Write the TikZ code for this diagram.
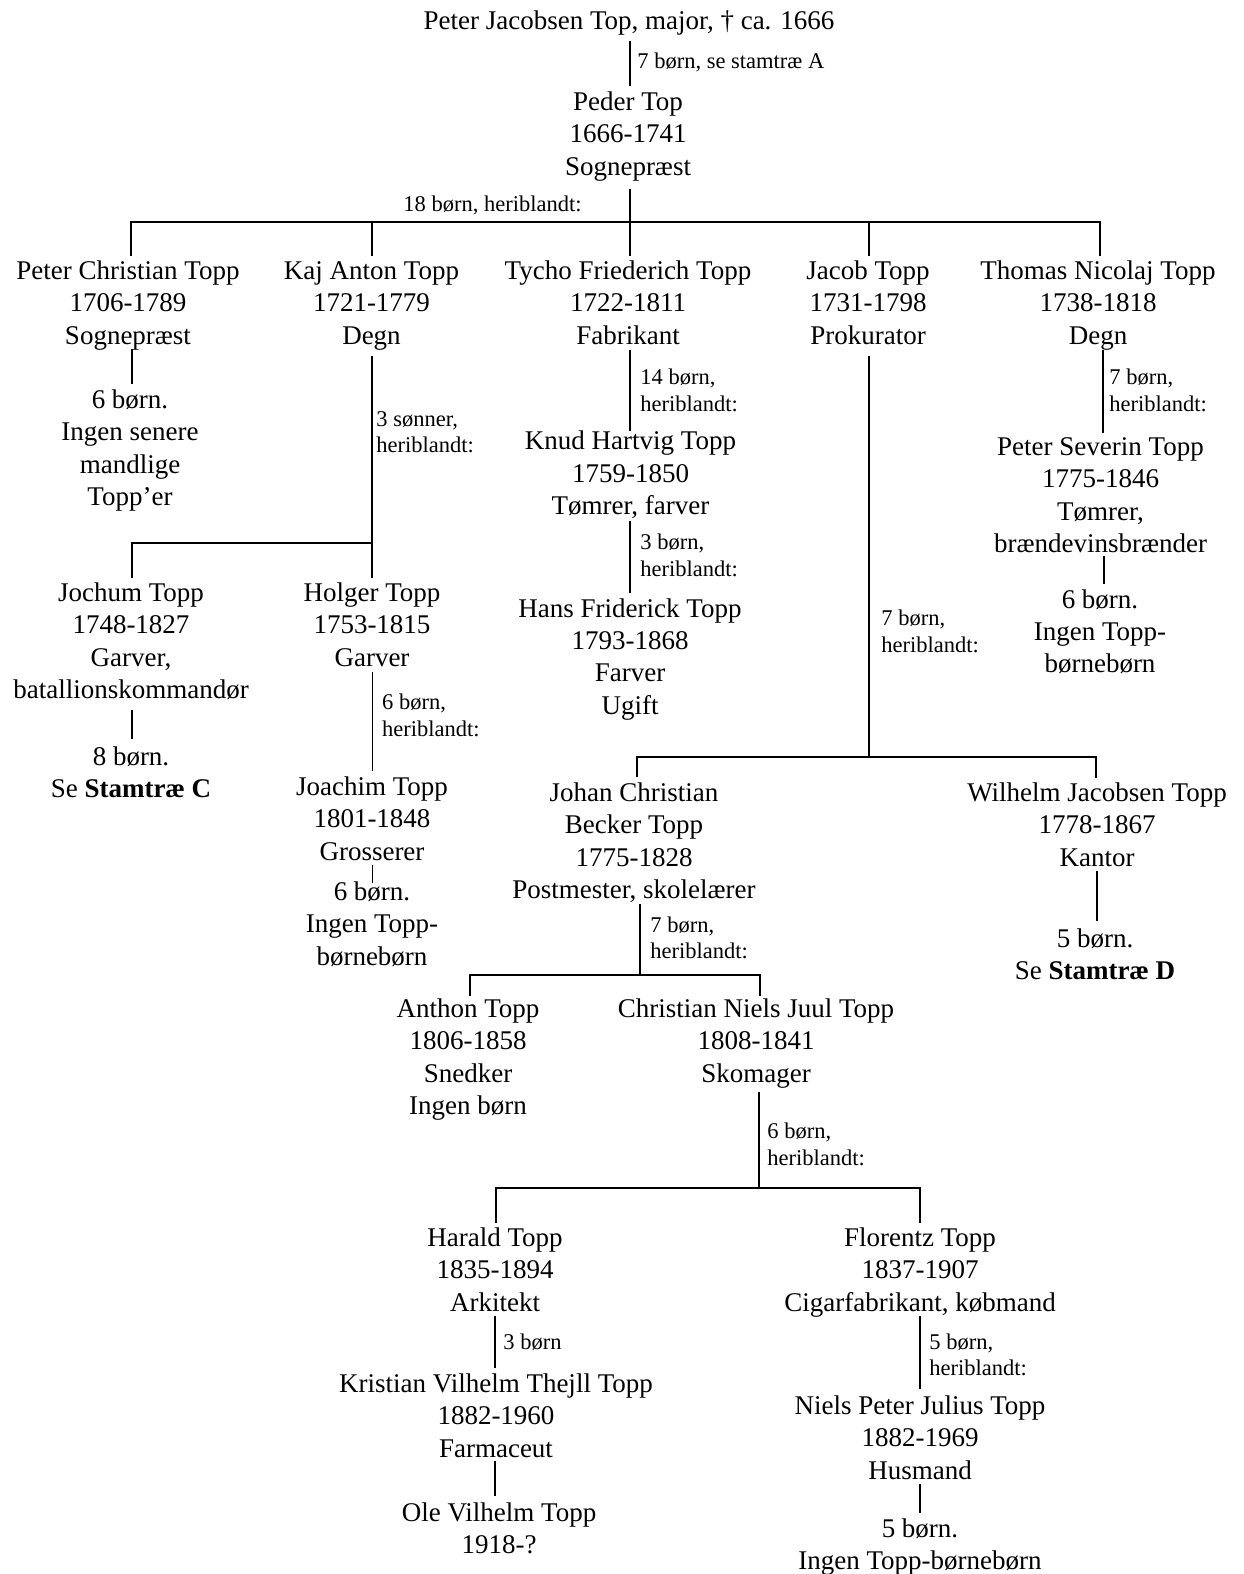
\documentclass[tikz,border=0pt]{standalone}
\usepackage{fontspec}
\setmainfont{Liberation Serif}
\begin{document}
\begin{tikzpicture}[x=0.44444pt,y=-0.44444pt,
  pers/.style={anchor=north, align=center, inner sep=0pt, font=\fontsize{12}{14.36}\selectfont},
  lab/.style={anchor=north west, align=left, inner sep=0pt, font=\fontsize{10}{11.7}\selectfont},
  ln/.style={line width=0.8pt, line cap=rect}]
\useasboundingbox (0,0) rectangle (1243,1574);

% ---------- nodes ----------
\node[pers] (root) at (629,6.4) {\strut Peter Jacobsen Top, major, † ca. 1666};
\node[lab] (labA) at (637,49.6) {\strut 7 børn, se stamtræ A};
\node[pers] (peder) at (628,87.4) {\strut Peder Top\\1666-1741\\Sognepræst};
\node[lab] (lab18) at (403,193) {\strut 18 børn, heriblandt:};

\node[pers] (pct) at (128,256.4) {\strut Peter Christian Topp\\1706-1789\\Sognepræst};
\node[pers] (kaj) at (371.5,256.4) {\strut Kaj Anton Topp\\1721-1779\\Degn};
\node[pers] (tycho) at (628,256.4) {\strut Tycho Friederich Topp\\1722-1811\\Fabrikant};
\node[pers] (jacob) at (868,256.4) {\strut Jacob Topp\\1731-1798\\Prokurator};
\node[pers] (thomas) at (1098,256.4) {\strut Thomas Nicolaj Topp\\1738-1818\\Degn};

\node[pers] (pctkids) at (130,385.4) {\strut 6 børn.\\Ingen senere\\mandlige\\Topp’er};
\node[lab] (labkaj) at (376,407.6) {\strut 3 sønner,\\heriblandt:};
\node[pers] (jochum) at (131,578.4) {\strut Jochum Topp\\1748-1827\\Garver,\\batallionskommandør};
\node[pers] (holger) at (372,578.4) {\strut Holger Topp\\1753-1815\\Garver};
\node[pers] (jochumkids) at (131,742.4) {\strut 8 børn.\\Se \textbf{Stamtræ C}};
\node[lab] (labholger) at (381.7,691) {\strut 6 børn,\\heriblandt:};
\node[pers] (joachim) at (372,772.4) {\strut Joachim Topp\\1801-1848\\Grosserer};
\node[pers] (joachimkids) at (372,877.4) {\strut 6 børn.\\Ingen Topp-\\børnebørn};

\node[lab] (labtycho) at (640,366) {\strut 14 børn,\\heriblandt:};
\node[pers] (knud) at (630.5,426.7) {\strut Knud Hartvig Topp\\1759-1850\\Tømrer, farver};
\node[lab] (labknud) at (640,531) {\strut 3 børn,\\heriblandt:};
\node[pers] (hans) at (630,594) {\strut Hans Friderick Topp\\1793-1868\\Farver\\Ugift};

\node[lab] (labjacob) at (881,607) {\strut 7 børn,\\heriblandt:};
\node[lab] (labthomas) at (1109,366) {\strut 7 børn,\\heriblandt:};
\node[pers] (severin) at (1100.5,432.4) {\strut Peter Severin Topp\\1775-1846\\Tømrer,\\brændevinsbrænder};
\node[pers] (severinkids) at (1100,585) {\strut 6 børn.\\Ingen Topp-\\børnebørn};

\node[pers] (johan) at (634,778.4) {\strut Johan Christian\\Becker Topp\\1775-1828\\Postmester, skolelærer};
\node[pers] (wilhelm) at (1097,778.4) {\strut Wilhelm Jacobsen Topp\\1778-1867\\Kantor};
\node[pers] (wilhelmkids) at (1095,924.4) {\strut 5 børn.\\Se \textbf{Stamtræ D}};
\node[lab] (labjohan) at (650,913.5) {\strut 7 børn,\\heriblandt:};

\node[pers] (anthon) at (468,994.4) {\strut Anthon Topp\\1806-1858\\Snedker\\Ingen børn};
\node[pers] (cnj) at (756,994.4) {\strut Christian Niels Juul Topp\\1808-1841\\Skomager};
\node[lab] (labcnj) at (767,1120) {\strut 6 børn,\\heriblandt:};

\node[pers] (harald) at (495,1223.5) {\strut Harald Topp\\1835-1894\\Arkitekt};
\node[lab] (labharald) at (503,1330.6) {\strut 3 børn};
\node[pers] (kristian) at (496,1369.4) {\strut Kristian Vilhelm Thejll Topp\\1882-1960\\Farmaceut};
\node[pers] (ole) at (499,1498) {\strut Ole Vilhelm Topp\\1918-?};

\node[pers] (florentz) at (920,1223.5) {\strut Florentz Topp\\1837-1907\\Cigarfabrikant, købmand};
\node[lab] (labflorentz) at (929,1330.6) {\strut 5 børn,\\heriblandt:};
\node[pers] (niels) at (920,1391.4) {\strut Niels Peter Julius Topp\\1882-1969\\Husmand};
\node[pers] (nielskids) at (920,1514.2) {\strut 5 børn.\\Ingen Topp-børnebørn};

% ---------- coordinates ----------
\coordinate (a0) at (630,42);   \coordinate (a1) at (630,85);
\coordinate (b0) at (630,190);  \coordinate (b1) at (630,222);
\coordinate (bl) at (131,222);  \coordinate (br) at (1100,222);
\coordinate (d1) at (131,222);  \coordinate (e1) at (131,255);
\coordinate (d2) at (372,222);  \coordinate (e2) at (372,255);
\coordinate (d3) at (630,222);  \coordinate (e3) at (630,255);
\coordinate (d4) at (869,222);  \coordinate (e4) at (869,255);
\coordinate (d5) at (1100,222); \coordinate (e5) at (1100,255);

\coordinate (p0) at (132,350);  \coordinate (p1) at (132,383);
\coordinate (k0) at (372,357);  \coordinate (k1) at (372,577);
\coordinate (kb) at (372,543);  \coordinate (kl) at (132,543); \coordinate (kl1) at (132,577);
\coordinate (jc0) at (132,711); \coordinate (jc1) at (132,738);
\coordinate (h0) at (372.5,673); \coordinate (h1) at (372.5,770);
\coordinate (j0) at (372.5,866); \coordinate (j1) at (372.5,882);

\coordinate (t0) at (630,351);  \coordinate (t1) at (630,430);
\coordinate (n0) at (630,522);  \coordinate (n1) at (630,592);

\coordinate (jb0) at (869,357); \coordinate (jb1) at (869,757);
\coordinate (jl) at (637,757);  \coordinate (jr) at (1096,757);
\coordinate (jl1) at (637,776); \coordinate (jr1) at (1096,777);

\coordinate (th0) at (1103,351); \coordinate (th1) at (1103,432);
\coordinate (s0) at (1104,557);  \coordinate (s1) at (1104,583);

\coordinate (w0) at (1097,872);  \coordinate (w1) at (1097,920);
\coordinate (jo0) at (640,905);  \coordinate (jo1) at (640,975);
\coordinate (jol) at (470,975);  \coordinate (jor) at (760,975);
\coordinate (jol1) at (470,995); \coordinate (jor1) at (760,995);

\coordinate (c0) at (759,1093);  \coordinate (c1) at (759,1188);
\coordinate (cl) at (496,1188);  \coordinate (cr) at (920,1188);
\coordinate (cl1) at (496,1222); \coordinate (cr1) at (920,1222);

\coordinate (ha0) at (495,1317); \coordinate (ha1) at (495,1367);
\coordinate (kr0) at (495,1462); \coordinate (kr1) at (495,1495);
\coordinate (f0) at (920,1317);  \coordinate (f1) at (920,1388);
\coordinate (ni0) at (920,1485); \coordinate (ni1) at (920,1512);

% ---------- connectors ----------
\draw[ln] (a0) -- (a1);
\draw[ln] (b0) -- (b1);
\draw[ln] (bl) -- (br);
\draw[ln] (d1) -- (e1);
\draw[ln] (d2) -- (e2);
\draw[ln] (d3) -- (e3);
\draw[ln] (d4) -- (e4);
\draw[ln] (d5) -- (e5);

\draw[ln] (p0) -- (p1);
\draw[ln] (k0) -- (k1);
\draw[ln] (kb) -- (kl) -- (kl1);
\draw[ln] (jc0) -- (jc1);
\draw[ln] (h0) -- (h1);
\draw[ln] (j0) -- (j1);

\draw[ln] (t0) -- (t1);
\draw[ln] (n0) -- (n1);

\draw[ln] (jb0) -- (jb1);
\draw[ln] (jl1) -- (jl) -- (jr) -- (jr1);

\draw[ln] (th0) -- (th1);
\draw[ln] (s0) -- (s1);

\draw[ln] (w0) -- (w1);
\draw[ln] (jo0) -- (jo1);
\draw[ln] (jol1) -- (jol) -- (jor) -- (jor1);

\draw[ln] (c0) -- (c1);
\draw[ln] (cl1) -- (cl) -- (cr) -- (cr1);

\draw[ln] (ha0) -- (ha1);
\draw[ln] (kr0) -- (kr1);
\draw[ln] (f0) -- (f1);
\draw[ln] (ni0) -- (ni1);
\end{tikzpicture}
\end{document}
